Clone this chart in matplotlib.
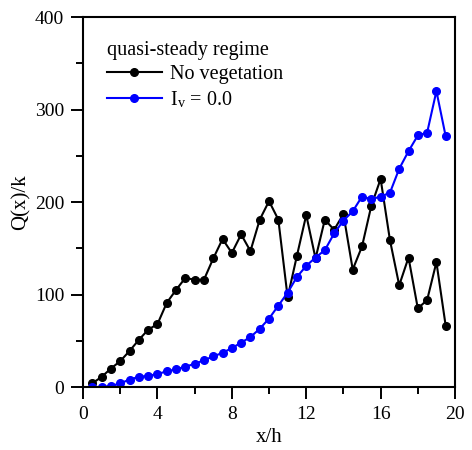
import numpy as np
import matplotlib
matplotlib.use("Agg")
import matplotlib.pyplot as plt
from matplotlib.ticker import MultipleLocator

# positions along the channel
x_h = np.arange(0.5, 20.0, 0.5)

q_no_veg = [4, 11, 20, 28, 39, 51, 62, 68, 91, 105,
            118, 116, 116, 139, 160, 145, 165, 147, 181, 201,
            181, 97, 142, 186, 139, 181, 170, 187, 127, 152,
            196, 225, 159, 110, 140, 85, 94, 135, 66]

q_iv0 = [0, 0, 1, 4, 8, 11, 12, 14, 17, 19,
         22, 25, 29, 33, 37, 42, 48, 54, 63, 74,
         88, 102, 119, 131, 140, 148, 166, 180, 190, 206,
         203, 206, 210, 236, 255, 272, 275, 320, 271]

plt.rcParams['font.family'] = ['Liberation Serif', 'DejaVu Serif']
plt.rcParams['mathtext.fontset'] = 'stix'

fig = plt.figure(figsize=(4.72, 4.5), dpi=100)
ax = fig.add_axes([0.176, 0.14, 0.788, 0.822])

ax.plot(x_h, q_no_veg, color='black', marker='o', markersize=5.5, lw=1.5,
        label='No vegetation')
ax.plot(x_h, q_iv0, color='blue', marker='o', markersize=5.5, lw=1.5,
        label=r'I$_\mathregular{v}$ = 0.0')

ax.set_xlim(0, 20)
ax.set_ylim(0, 400)
ax.xaxis.set_major_locator(MultipleLocator(4))
ax.xaxis.set_minor_locator(MultipleLocator(2))
ax.yaxis.set_major_locator(MultipleLocator(100))
ax.yaxis.set_minor_locator(MultipleLocator(50))
ax.tick_params(which='major', direction='out', length=8.5, width=1.4,
               labelsize=14, pad=5)
ax.tick_params(which='minor', direction='out', length=5, width=1.4)
for s in ax.spines.values():
    s.set_linewidth(1.5)

ax.set_xlabel('x/h', fontsize=15, labelpad=4)
ax.set_ylabel('Q(x)/k', fontsize=15, labelpad=3)

leg = ax.legend(loc='upper left', title='quasi-steady regime', frameon=False,
                fontsize=14.5, title_fontsize=14.5, handlelength=2.7,
                borderaxespad=0.8, labelspacing=0.25, handletextpad=0.4,
                borderpad=0.4)
leg._legend_box.align = 'left'

fig.savefig('out.png', dpi=100)
